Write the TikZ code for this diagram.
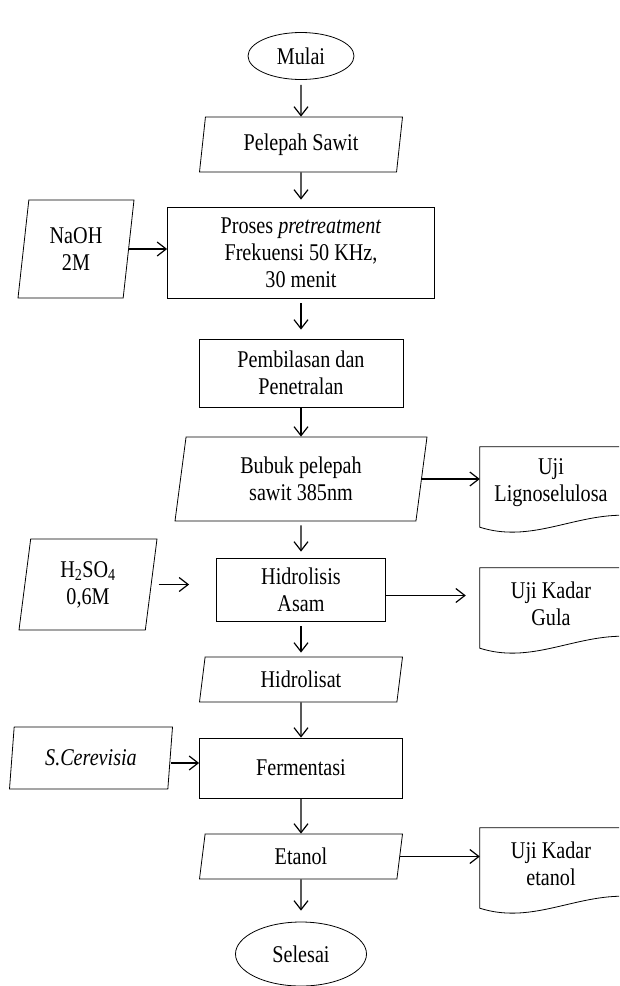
\documentclass[tikz,border=0pt]{standalone}
\usepackage{fontspec}
\setmainfont{Liberation Serif}[FakeStretch=0.84]
\usetikzlibrary{shapes.geometric,arrows.meta}

\begin{document}
\begin{tikzpicture}[x=1pt, y=-1pt,
  every node/.style={font=\fontsize{24}{27}\selectfont, align=center, inner sep=2pt},
  terminal/.style={ellipse, draw, line width=0.8pt},
  io/.style={trapezium, trapezium left angle=77, trapezium right angle=103,
    trapezium stretches body, draw, line width=0.8pt},
  proc/.style={rectangle, draw, line width=0.8pt},
  docbox/.style={rectangle, minimum width=142pt, minimum height=80pt},
  flow/.style={-{Straight Barb[length=9pt,width=14pt]}, line width=1.2pt}]
\useasboundingbox (0,0) rectangle (619,986);
\clip (0,0) rectangle (619,986);

\node [terminal, minimum width=106pt, minimum height=47pt] (mulai) at (301,56) {Mulai};
\node [io, minimum width=203pt, minimum height=55pt] (pelepah) at (301,144.5) {Pelepah Sawit};
\node [proc, minimum width=267pt, minimum height=91pt] (proses) at (301,252.5)
  {Proses \textit{pretreatment}\\Frekuensi 50 KHz,\\30 menit};
\node [io, minimum width=116pt, minimum height=98pt] (naoh) at (76,249) {NaOH\\2M};
\node [proc, minimum width=204pt, minimum height=68pt] (bilas) at (301,373) {Pembilasan dan\\Penetralan};
\node [io, minimum width=252pt, minimum height=84pt] (bubuk) at (301,479) {Bubuk pelepah\\sawit 385nm};
\node [docbox] (ujilig) at (551,483) {Uji\\Lignoselulosa};
\node [io, minimum width=138pt, minimum height=91pt] (asam) at (88,584.5) {H\textsubscript{2}SO\textsubscript{4}\\0,6M};
\node [proc, minimum width=169pt, minimum height=63pt] (hidrolisis) at (301,589.5) {Hidrolisis\\Asam};
\node [docbox] (ujigula) at (551,604) {Uji Kadar\\Gula};
\node [io, trapezium left angle=75, trapezium right angle=105, minimum width=203pt, minimum height=45pt]
  (hidrolisat) at (301,679.5) {Hidrolisat};
\node [io, minimum width=163pt, minimum height=62pt] (ragi) at (91,758) {\textit{S.Cerevisia}};
\node [proc, minimum width=203pt, minimum height=60pt] (fermentasi) at (301,768) {Fermentasi};
\node [io, trapezium left angle=75, trapezium right angle=105, minimum width=203pt, minimum height=45pt]
  (etanol) at (301,856.5) {Etanol};
\node [docbox] (ujietanol) at (551,864) {Uji Kadar\\etanol};
\node [terminal, minimum width=131pt, minimum height=64pt] (selesai) at (301,954) {Selesai};

\foreach \d in {ujilig, ujigula, ujietanol}
  \draw [line width=0.8pt] ([yshift=-4pt]\d.north west) -- ([yshift=-4pt]\d.north east)
    -- ([yshift=8pt]\d.south east) .. controls +(-50,0) and +(50,16) .. ([yshift=-4pt]\d.south west) -- cycle;

\draw [flow, shorten <=5pt] (mulai) -- (pelepah);
\draw [flow, shorten >=7pt] (pelepah) -- (proses);
\draw [flow, shorten <=5pt, shorten >=9pt] (proses) -- (bilas);
\draw [flow] (bilas) -- (bubuk);
\draw [flow, shorten <=4pt, shorten >=6pt] (bubuk) -- (hidrolisis);
\draw [flow, shorten <=5pt, shorten >=4pt] (hidrolisis) -- (hidrolisat);
\draw [flow] (hidrolisat) -- (fermentasi);
\draw [flow] (fermentasi) -- (etanol);
\draw [flow, shorten >=11pt] (etanol) -- (selesai);

\draw [flow] (naoh.east) -- (naoh.east -| proses.west);
\draw [flow] (bubuk.east) -- (bubuk.east -| ujilig.west);
\draw [flow, shorten <=7pt, shorten >=27pt] (asam.east) -- (asam.east -| hidrolisis.west);
\draw [flow, shorten >=14pt] ([yshift=-6pt]hidrolisis.east) -- ([yshift=-6pt]hidrolisis.east -| ujigula.west);
\draw [flow] ([yshift=-5pt]ragi.east) -- ([yshift=-5pt]ragi.east -| fermentasi.west);
\draw [flow] (etanol.east) -- (etanol.east -| ujietanol.west);
\end{tikzpicture}
\end{document}
